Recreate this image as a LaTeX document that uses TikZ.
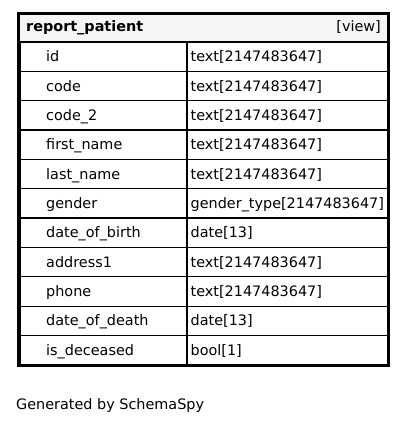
\documentclass[tikz,border=0pt]{standalone}
\usepackage{fontspec}
\setmainfont{DejaVu Sans}
\begin{document}
\begin{tikzpicture}[x=1pt,y=-1pt,
  txt/.style={anchor=base west,inner sep=0pt,font=\fontsize{14.4}{16}\selectfont},
  bold/.style={txt,font=\fontsize{14.4}{16}\selectfont\bfseries},
  cell/.style={draw=black,line width=1.3pt},
  frame/.style={draw=black,line width=2.6pt}]
\useasboundingbox (0,0) rectangle (407,423);
% header
\fill[gray!8] (20,14.5) rectangle (387.5,42);
\node[bold] (title) at (26,31) {report\_patient};
\node[txt,anchor=base east] (kind) at (381,31) {[view]};
% column rows
\def\rowh{29.35}
\foreach [count=\i from 0] \nm/\ty in {id/text[2147483647],code/text[2147483647],code\_2/text[2147483647],first\_name/text[2147483647],last\_name/text[2147483647],gender/gender\_type[2147483647],date\_of\_birth/date[13],address1/text[2147483647],phone/text[2147483647],date\_of\_death/date[13],is\_deceased/bool[1]}{
  \pgfmathsetmacro\top{42+\i*\rowh}
  \pgfmathsetmacro\bot{\top+\rowh}
  \draw[cell] (20,\top) rectangle (187,\bot);
  \draw[cell] (187,\top) rectangle (387.5,\bot);
  \node[txt] (col\i) at (46,\top+19.7) {\nm};
  \node[txt] (typ\i) at (190.5,\top+19.7) {\ty};
}
% outer frame
\draw[frame] (18.3,13.3) rectangle (388.7,365.7);
\node[txt] (footer) at (16,409.3) {Generated by SchemaSpy};
\end{tikzpicture}
\end{document}
